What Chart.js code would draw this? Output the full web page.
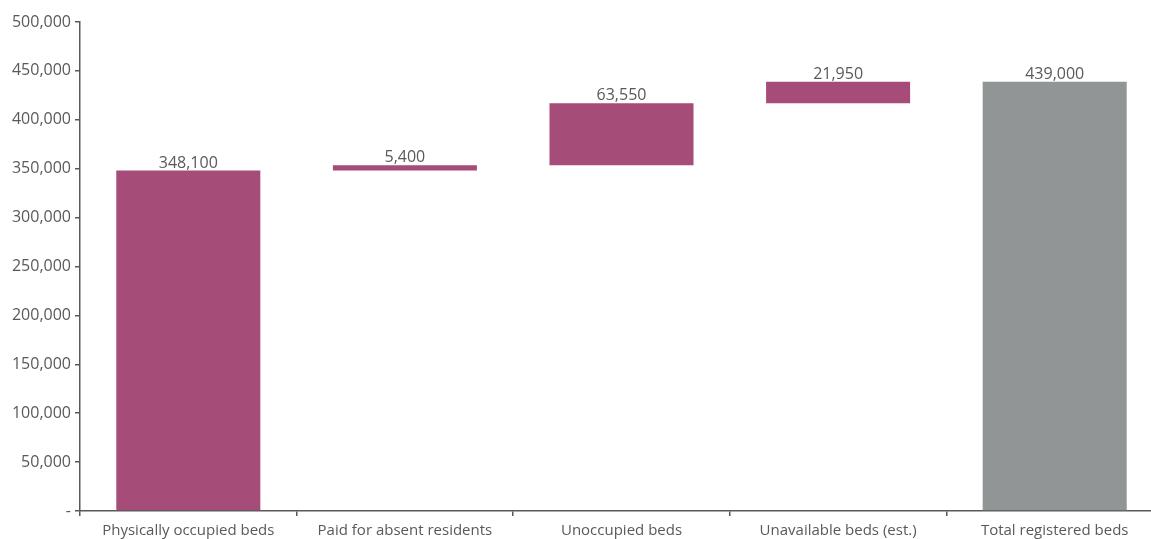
<!DOCTYPE html>
<html>
<head>
<meta charset="utf-8">
<script src="https://cdn.jsdelivr.net/npm/chart.js@4"></script>
<style>
  html, body { margin: 0; padding: 0; background: #fff; overflow: hidden; }
  #wrap { width: 1165px; height: 539px; position: relative; }
</style>
</head>
<body>
<div id="wrap"><canvas id="waterfall"></canvas></div>
<script>
const categories = ['Physically occupied beds', 'Paid for absent residents', 'Unoccupied beds', 'Unavailable beds (est.)', 'Total registered beds'];
const steps = [348100, 5400, 63550, 21950, 439000];
const isTotal = [false, false, false, false, true];
const yTicks = [0, 50000, 100000, 150000, 200000, 250000, 300000, 350000, 400000, 450000, 500000];

const purple = '#A54D78';
const grey = '#929596';
const textCol = '#595959';
const fontFamily = '"Open Sans", "Liberation Sans", sans-serif';

// floating ranges for the waterfall
let running = 0;
const ranges = steps.map((v, i) => {
    if (isTotal[i]) return [0, v];
    const r = [running, running + v];
    running += v;
    return r;
});

const valueLabels = {
    id: 'valueLabels',
    afterDatasetsDraw(chart) {
        const c = chart.ctx;
        const meta = chart.getDatasetMeta(0);
        c.save();
        c.font = '16px ' + fontFamily;
        c.fillStyle = textCol;
        c.textAlign = 'center';
        c.textBaseline = 'alphabetic';
        meta.data.forEach((bar, i) => {
            const top = Math.min(bar.y, bar.base);
            c.fillText(steps[i].toLocaleString('en-US'), bar.x, top - 3);
        });
        c.restore();
    }
};

new Chart(document.getElementById('waterfall'), {
    type: 'bar',
    data: {
        labels: categories,
        datasets: [{
            data: ranges,
            backgroundColor: isTotal.map(t => t ? grey : purple),
            borderWidth: 0,
            borderSkipped: false,
            categoryPercentage: 1,
            barPercentage: 0.665
        }]
    },
    options: {
        responsive: true,
        maintainAspectRatio: false,
        animation: false,
        layout: { padding: { top: 22, right: 2, left: 0, bottom: 0 } },
        plugins: { legend: { display: false }, tooltip: { enabled: false } },
        scales: {
            x: {
                grid: { offset: true, drawOnChartArea: false, drawTicks: true, tickLength: 5, color: textCol, lineWidth: 1.5 },
                border: { display: true, color: textCol, width: 1.5 },
                ticks: { color: textCol, font: { size: 15, family: fontFamily }, padding: 6, maxRotation: 0 },
                afterFit(scale) { scale.height = 28; }
            },
            y: {
                min: 0,
                max: 500000,
                afterBuildTicks(scale) { scale.ticks = yTicks.map(v => ({ value: v })); },
                grid: { drawOnChartArea: false, drawTicks: true, tickLength: 5, color: textCol, lineWidth: 1.5 },
                border: { display: true, color: textCol, width: 1.5 },
                ticks: {
                    color: textCol,
                    font: { size: 16, family: fontFamily },
                    padding: 4,
                    callback: v => v === 0 ? '-' : v.toLocaleString('en-US')
                },
                afterFit(scale) { scale.width = 80; }
            }
        }
    },
    plugins: [valueLabels]
});
</script>
</body>
</html>
